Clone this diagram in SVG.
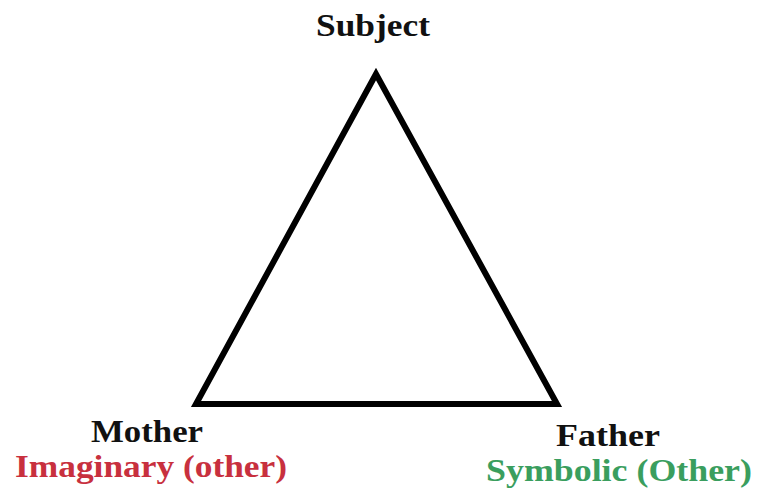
<svg xmlns="http://www.w3.org/2000/svg" width="757" height="493" viewBox="0 0 757 493">
<style>
  .t { font-family: "Liberation Serif", "Times New Roman", serif; font-weight: bold; font-size: 31px; }
  .k { fill: #111; }
  .r { fill: #c8303e; }
  .g { fill: #3a9e5e; }
  .edge { fill: none; stroke: #000; stroke-width: 6; stroke-linejoin: miter; }
</style>
<rect width="757" height="493" fill="#fff"/>
<g id="connectors">
  <polygon class="edge" points="376,74 196,404 557,404"/>
</g>
<g id="subject">
  <text class="t k" x="316" y="36" textLength="114" lengthAdjust="spacingAndGlyphs">Subject</text>
</g>
<g id="mother">
  <text class="t k" x="91" y="442" textLength="112" lengthAdjust="spacingAndGlyphs">Mother</text>
  <text class="t r" x="15" y="477" textLength="272" lengthAdjust="spacingAndGlyphs">Imaginary (other)</text>
</g>
<g id="father">
  <text class="t k" x="556" y="446" textLength="104" lengthAdjust="spacingAndGlyphs">Father</text>
  <text class="t g" x="486" y="481" textLength="266" lengthAdjust="spacingAndGlyphs">Symbolic (Other)</text>
</g>
</svg>
